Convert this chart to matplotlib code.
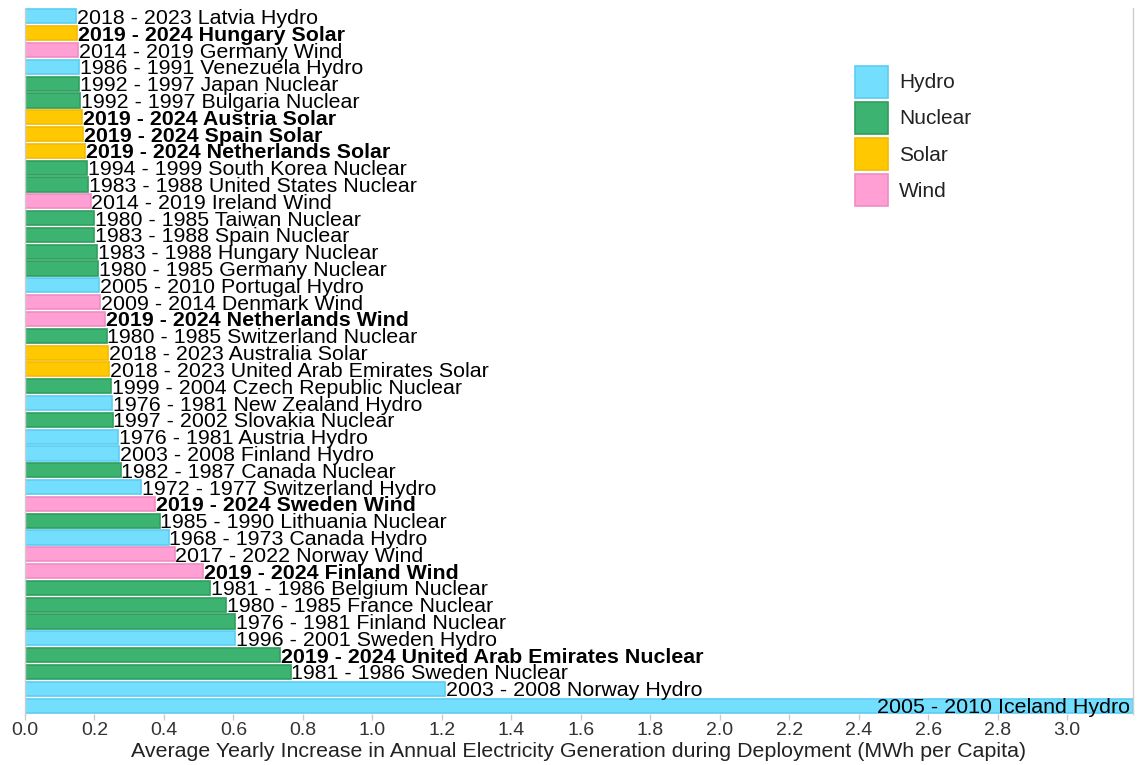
import matplotlib
matplotlib.use("Agg")
import matplotlib.pyplot as plt
from matplotlib.patches import Patch

plt.rcParams['font.family'] = ['Liberation Sans', 'DejaVu Sans']

# Data (top to bottom as displayed)
labels = [
    "2018 - 2023 Latvia Hydro", "2019 - 2024 Hungary Solar", "2014 - 2019 Germany Wind",
    "1986 - 1991 Venezuela Hydro", "1992 - 1997 Japan Nuclear", "1992 - 1997 Bulgaria Nuclear",
    "2019 - 2024 Austria Solar", "2019 - 2024 Spain Solar", "2019 - 2024 Netherlands Solar",
    "1994 - 1999 South Korea Nuclear", "1983 - 1988 United States Nuclear", "2014 - 2019 Ireland Wind",
    "1980 - 1985 Taiwan Nuclear", "1983 - 1988 Spain Nuclear", "1983 - 1988 Hungary Nuclear",
    "1980 - 1985 Germany Nuclear", "2005 - 2010 Portugal Hydro", "2009 - 2014 Denmark Wind",
    "2019 - 2024 Netherlands Wind", "1980 - 1985 Switzerland Nuclear", "2018 - 2023 Australia Solar",
    "2018 - 2023 United Arab Emirates Solar", "1999 - 2004 Czech Republic Nuclear",
    "1976 - 1981 New Zealand Hydro", "1997 - 2002 Slovakia Nuclear", "1976 - 1981 Austria Hydro",
    "2003 - 2008 Finland Hydro", "1982 - 1987 Canada Nuclear", "1972 - 1977 Switzerland Hydro",
    "2019 - 2024 Sweden Wind", "1985 - 1990 Lithuania Nuclear", "1968 - 1973 Canada Hydro",
    "2017 - 2022 Norway Wind", "2019 - 2024 Finland Wind", "1981 - 1986 Belgium Nuclear",
    "1980 - 1985 France Nuclear", "1976 - 1981 Finland Nuclear", "1996 - 2001 Sweden Hydro",
    "2019 - 2024 United Arab Emirates Nuclear", "1981 - 1986 Sweden Nuclear",
    "2003 - 2008 Norway Hydro", "2005 - 2010 Iceland Hydro",
]
types = [
    "Hydro", "Solar", "Wind", "Hydro", "Nuclear", "Nuclear", "Solar", "Solar", "Solar",
    "Nuclear", "Nuclear", "Wind", "Nuclear", "Nuclear", "Nuclear", "Nuclear", "Hydro", "Wind",
    "Wind", "Nuclear", "Solar", "Solar", "Nuclear", "Hydro", "Nuclear", "Hydro", "Hydro",
    "Nuclear", "Hydro", "Wind", "Nuclear", "Hydro", "Wind", "Wind", "Nuclear", "Nuclear",
    "Nuclear", "Hydro", "Nuclear", "Nuclear", "Hydro", "Hydro",
]
values = [
    0.147, 0.151, 0.153, 0.155, 0.156, 0.159, 0.164, 0.168, 0.173, 0.179, 0.182, 0.189,
    0.200, 0.200, 0.207, 0.211, 0.213, 0.217, 0.231, 0.235, 0.239, 0.243, 0.249, 0.251,
    0.252, 0.269, 0.272, 0.275, 0.334, 0.375, 0.388, 0.414, 0.431, 0.513, 0.534, 0.580,
    0.605, 0.606, 0.734, 0.765, 1.209, 3.19,
]
xticks = [0.0, 0.2, 0.4, 0.6, 0.8, 1.0, 1.2, 1.4, 1.6, 1.8, 2.0, 2.2, 2.4, 2.6, 2.8, 3.0]
legend_order = ["Hydro", "Nuclear", "Solar", "Wind"]

fill = {"Hydro": "#74defe", "Nuclear": "#3cb371", "Solar": "#ffc800", "Wind": "#ff9fd3"}
edge = {"Hydro": "#5ccdf2", "Nuclear": "#2f9e5f", "Solar": "#f2bb00", "Wind": "#ef8cc2"}

fig = plt.figure(figsize=(11.4, 7.65), dpi=100)
ax = fig.add_axes([25/1140, 1-714/765, (1133-25)/1140, (714-8)/765])

n = len(values)
ypos = [n - 1 - i for i in range(n)]
ax.barh(ypos, values, height=0.84,
        color=[fill[t] for t in types], edgecolor=[edge[t] for t in types], linewidth=1.2)

xmax = 3.19
ax.set_xlim(0, xmax)
ax.set_ylim(-0.5, n - 0.5)

for y, v, lab in zip(ypos, values, labels):
    bold = lab.startswith("2019 - 2024")
    if v >= xmax * 0.99:
        ax.text(xmax - 0.008, y, lab, ha='right', va='center_baseline', fontsize=15.4,
                fontweight='bold' if bold else 'normal', color='black')
    else:
        ax.text(v + 0.002, y, lab, ha='left', va='center_baseline', fontsize=15.4,
                fontweight='bold' if bold else 'normal', color='black')

ax.set_xticks(xticks)
ax.set_xticklabels([f"{t:.1f}" for t in xticks])
ax.tick_params(axis='x', colors='#cccccc', labelcolor='#333333', labelsize=14, length=4, width=1, pad=2)
ax.set_yticks([])
ax.set_xlabel("Average Yearly Increase in Annual Electricity Generation during Deployment (MWh per Capita)",
              fontsize=15.4, color='#222222', labelpad=2)

for s in ['top', 'bottom']:
    ax.spines[s].set_visible(False)
for s in ['left', 'right']:
    ax.spines[s].set_color('#cccccc')
    ax.spines[s].set_linewidth(1)

handles = [Patch(facecolor=fill[t], edgecolor=edge[t], linewidth=1.2) for t in legend_order]
fig.legend(handles, legend_order, loc='upper left', bbox_to_anchor=(855/1140, 1-66/765),
           frameon=False, fontsize=15, borderpad=0, handlelength=1.56, handleheight=1.95,
           labelspacing=0.22, handletextpad=0.55, borderaxespad=0, labelcolor='#222222')

fig.savefig("out.png", dpi=100)
